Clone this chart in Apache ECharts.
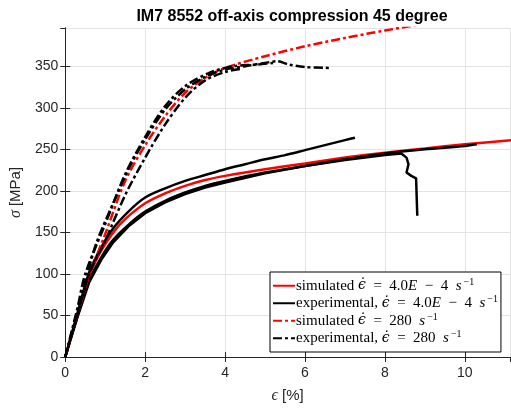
<!DOCTYPE html>
<html>
<head>
<meta charset="utf-8">
<script src="https://cdn.jsdelivr.net/npm/echarts@6/dist/echarts.min.js"></script>
<style>
html, body { margin: 0; padding: 0; background: #fff; }
#main { width: 511px; height: 414px; }
</style>
</head>
<body>
<div id="main"></div>
<script>
// 曲线数据 (strain %, stress MPa)
var simStaticX = [0, 0.3, 0.6, 0.9, 1.2, 1.5, 2.0, 2.5, 3.0, 3.5, 4.0, 5.0, 6.0, 7.0, 8.0, 9.0, 10.0, 11.2];
var simStaticY = [0, 50, 98, 128, 150, 166, 185, 197, 206, 213, 218, 226, 233, 240, 246, 251, 256, 261];

var expStatic1X = [0, 0.3, 0.6, 0.9, 1.2, 1.6, 2.0, 2.5, 3.0, 3.5, 4.0, 4.5, 5.0, 5.5, 6.0, 6.5, 7.0, 7.25];
var expStatic1Y = [0, 52, 102, 132, 155, 176, 192, 203, 212, 219, 226, 232, 238, 243, 249, 255, 261, 264];
var expStatic2X = [0, 0.3, 0.6, 0.9, 1.2, 1.6, 2.0, 2.5, 3.0, 3.5, 4.0, 5.0, 6.0, 7.0, 8.0, 9.0, 10.0, 10.3];
var expStatic2Y = [0, 48, 92, 120, 141, 160, 175, 188, 198, 206, 212, 222, 230, 238, 245, 250, 254, 256];
var expStatic3X = [0, 0.3, 0.6, 0.9, 1.2, 1.6, 2.0, 2.5, 3.0, 3.5, 4.0, 5.0, 6.0, 7.0, 8.0, 8.41, 8.54, 8.59, 8.54, 8.66, 8.78, 8.81];
var expStatic3Y = [0, 47, 90, 117, 138, 158, 173, 186, 196, 204, 210, 221, 230, 237, 243, 245, 240, 232, 222, 218, 215, 170];

var simDynX = [0, 0.3, 0.6, 1.0, 1.5, 2.0, 2.5, 3.0, 3.5, 4.0, 5.0, 6.0, 7.0, 8.0, 9.0];
var simDynY = [0, 50, 98, 148, 212, 255, 290, 318, 336, 348, 362, 374, 384, 393, 401];

var expDyn1X = [0, 0.3, 0.55, 0.8, 1.2, 1.6, 2.0, 2.5, 3.0, 3.5, 4.0, 4.5, 5.0, 5.3, 5.6, 6.0, 6.6];
var expDyn1Y = [0, 55, 100, 140, 185, 228, 262, 298, 322, 337, 346, 350, 354, 356, 352, 349, 348];
var expDyn2X = [0, 0.3, 0.6, 1.0, 1.5, 2.0, 2.5, 3.0, 3.5, 4.0, 4.4];
var expDyn2Y = [0, 50, 100, 140, 195, 240, 280, 312, 333, 343, 347];
var expDyn3X = [0, 0.3, 0.5, 1.0, 1.5, 2.0, 2.5, 3.0, 3.6, 4.2, 4.8, 5.2];
var expDyn3Y = [0, 58, 100, 160, 220, 265, 302, 326, 342, 350, 352, 354];

var nSimStatic = 'simulated ϵ̇ = 4.0E − 4 s⁻¹';
var nExpStatic = 'experimental, ϵ̇ = 4.0E − 4 s⁻¹';
var nSimDyn = 'simulated ϵ̇ = 280 s⁻¹';
var nExpDyn = 'experimental, ϵ̇ = 280 s⁻¹';

// 图例的富文本 (公式部分用斜体)
var legendRich = {};
legendRich[nSimStatic] = '{t|simulated }{d|ϵ̇}{t|  =  4.0}{m|E}{t|  −  4  }{m|s}{sup|−1}';
legendRich[nExpStatic] = '{t|experimental, }{d|ϵ̇}{t|  =  4.0}{m|E}{t|  −  4  }{m|s}{sup|−1}';
legendRich[nSimDyn] = '{t|simulated }{d|ϵ̇}{t|  =  280  }{m|s}{sup|−1}';
legendRich[nExpDyn] = '{t|experimental, }{d|ϵ̇}{t|  =  280  }{m|s}{sup|−1}';

function pairs(xs, ys) {
    var out = [];
    for (var i = 0; i < xs.length; i++) {
        out.push([xs[i], ys[i]]);
    }
    return out;
}

var dashDot = [9, 3, 3, 3];

function makeLine(name, xs, ys, color, width, type) {
    return {
        name: name,
        type: 'line',
        data: pairs(xs, ys),
        showSymbol: false,
        symbol: 'none',
        smooth: 0.3,
        animation: false,
        lineStyle: { color: color, width: width, type: type },
        itemStyle: { color: color }
    };
}

var axisColor = '#262626';
var gridColor = '#e3e3e3';
var serif = 'Liberation Serif';

var option = {
    animation: false,
    title: {
        text: 'IM7 8552 off-axis compression 45 degree',
        left: 287,
        textAlign: 'center',
        top: 4,
        textStyle: { fontFamily: 'Liberation Sans', fontWeight: 'bold', fontSize: 16, color: '#000' }
    },
    grid: { left: 63, right: 1, top: 28, bottom: 57, containLabel: false },
    legend: {
        orient: 'vertical',
        left: 270,
        top: 272,
        data: [nSimStatic, nExpStatic, nSimDyn, nExpDyn],
        backgroundColor: '#fff',
        borderColor: '#000',
        borderWidth: 1,
        padding: [5, 3, 5, 2],
        itemGap: 0,
        itemWidth: 22,
        itemHeight: 12,
        itemStyle: { opacity: 0 },
        formatter: function (name) {
            return legendRich[name];
        },
        textStyle: {
            fontFamily: serif, fontSize: 15, lineHeight: 17.5, color: '#000', padding: [0, 0, 0, -4],
            rich: {
                t: { fontFamily: serif, fontSize: 15, color: '#000' },
                m: { fontFamily: serif, fontStyle: 'italic', fontSize: 15, color: '#000' },
                d: { fontFamily: 'DejaVu Serif', fontStyle: 'italic', fontSize: 14, color: '#000' },
                sup: { fontFamily: serif, fontSize: 10, color: '#000', verticalAlign: 'top', lineHeight: 10, padding: [0, 0, 0, 2] }
            }
        }
    },
    xAxis: [{
        type: 'value',
        min: 0,
        max: 11.13,
        interval: 2,
        name: '{i|ϵ} [%]',
        nameLocation: 'middle',
        nameGap: 31,
        nameTextStyle: {
            fontFamily: 'Liberation Sans', fontSize: 15, color: axisColor,
            rich: { i: { fontFamily: serif, fontStyle: 'italic', fontSize: 16, color: axisColor } }
        },
        axisLine: { lineStyle: { color: axisColor, width: 1 } },
        axisTick: { inside: true, length: 5, lineStyle: { color: axisColor } },
        axisLabel: { showMaxLabel: false, margin: 9, fontFamily: 'Liberation Sans', fontSize: 14, color: axisColor },
        splitLine: { show: true, lineStyle: { color: gridColor, width: 1 } }
    }, {
        type: 'value',
        position: 'top',
        min: 0,
        max: 11.13,
        interval: 2,
        axisLine: { show: true, lineStyle: { color: axisColor, width: 1 } },
        axisTick: { show: true, inside: true, length: 5, lineStyle: { color: axisColor } },
        axisLabel: { show: false },
        splitLine: { show: false }
    }],
    yAxis: [{
        type: 'value',
        min: 0,
        max: 396,
        interval: 50,
        name: '{i|σ} [MPa]',
        nameLocation: 'middle',
        nameGap: 33,
        nameRotate: 90,
        nameTextStyle: {
            fontFamily: 'Liberation Sans', fontSize: 15, color: axisColor,
            rich: { i: { fontFamily: serif, fontStyle: 'italic', fontSize: 16, color: axisColor } }
        },
        axisLine: { show: true, lineStyle: { color: axisColor, width: 1 } },
        axisTick: { show: true, inside: true, length: 5, lineStyle: { color: axisColor } },
        axisLabel: { showMaxLabel: false, margin: 7, fontFamily: 'Liberation Sans', fontSize: 14, color: axisColor },
        splitLine: { show: true, lineStyle: { color: gridColor, width: 1 } }
    }, {
        type: 'value',
        position: 'right',
        min: 0,
        max: 396,
        interval: 50,
        axisLine: { show: true, lineStyle: { color: axisColor, width: 1 } },
        axisTick: { show: true, inside: true, length: 5, lineStyle: { color: axisColor } },
        axisLabel: { show: false },
        splitLine: { show: false }
    }],
    series: [
        makeLine(nSimStatic, simStaticX, simStaticY, '#ff0000', 2.5, 'solid'),
        makeLine(nExpStatic, expStatic1X, expStatic1Y, '#000000', 2.5, 'solid'),
        makeLine(nExpStatic, expStatic2X, expStatic2Y, '#000000', 2.5, 'solid'),
        makeLine(nExpStatic, expStatic3X, expStatic3Y, '#000000', 2.5, 'solid'),
        makeLine(nSimDyn, simDynX, simDynY, '#ff0000', 2.5, dashDot),
        makeLine(nExpDyn, expDyn1X, expDyn1Y, '#000000', 2.5, dashDot),
        makeLine(nExpDyn, expDyn2X, expDyn2Y, '#000000', 2.5, dashDot),
        makeLine(nExpDyn, expDyn3X, expDyn3Y, '#000000', 2.5, dashDot)
    ]
};

// 失效曲线的断裂段不平滑
option.series[3].smooth = false;

var chart = echarts.init(document.getElementById('main'));
chart.setOption(option);
</script>
</body>
</html>
